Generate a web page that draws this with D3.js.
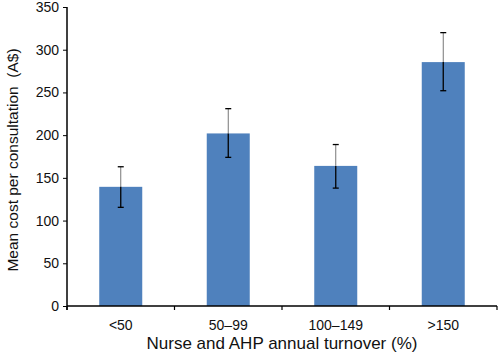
<!DOCTYPE html>
<html>
<head>
<meta charset="utf-8">
<style>
  body { margin: 0; background: #fff; }
  svg { display: block; font-family: "Liberation Sans", Arial, sans-serif; }
</style>
</head>
<body>
<svg></svg>
<script src="https://d3js.org/d3.v7.min.js"></script>
<script>
const categories = ['<50', '50\u201399', '100\u2013149', '>150'];
const means = [139.5, 202, 164, 285.5];
const errLow = [115.5, 174, 138, 252];
const errHigh = [163, 231, 189, 320];
const yTicks = [0, 50, 100, 150, 200, 250, 300, 350];

const width = 500, height = 360;
const margin = { top: 7, right: 3, bottom: 54, left: 67 };
const innerWidth = width - margin.left - margin.right;
const innerHeight = height - margin.top - margin.bottom;

const svg = d3.select('svg').attr('width', width).attr('height', height);
const g = svg.append('g').attr('transform', `translate(${margin.left},${margin.top})`);

const data = categories.map((c, i) => ({ cat: c, mean: means[i], lo: errLow[i], hi: errHigh[i] }));

const x = d3.scaleBand().domain(categories).range([0, innerWidth]).paddingInner(0.6).paddingOuter(0.3);
const xEdge = d3.scaleBand().domain(categories).range([0, innerWidth]);
const y = d3.scaleLinear().domain([0, 350]).range([innerHeight, 0]);

// bars
g.selectAll('rect.bar').data(data).enter().append('rect')
  .attr('class', 'bar')
  .attr('x', d => x(d.cat))
  .attr('y', d => y(d.mean))
  .attr('width', x.bandwidth())
  .attr('height', d => innerHeight - y(d.mean))
  .attr('fill', '#4f81bd');

// error bars (part above the bar looks lighter in the original)
const cx = d => x(d.cat) + x.bandwidth() / 2;
const err = g.selectAll('g.err').data(data).enter().append('g').attr('class', 'err');
err.append('line')
  .attr('x1', cx).attr('x2', cx)
  .attr('y1', d => y(d.hi)).attr('y2', d => y(d.mean))
  .attr('stroke', '#777').attr('stroke-width', 1);
err.append('line')
  .attr('x1', cx).attr('x2', cx)
  .attr('y1', d => y(d.mean)).attr('y2', d => y(d.lo))
  .attr('stroke', '#000').attr('stroke-width', 1.3);
err.append('line')
  .attr('x1', d => cx(d) - 3).attr('x2', d => cx(d) + 3)
  .attr('y1', d => y(d.hi)).attr('y2', d => y(d.hi))
  .attr('stroke', '#000').attr('stroke-width', 1.3);
err.append('line')
  .attr('x1', d => cx(d) - 3).attr('x2', d => cx(d) + 3)
  .attr('y1', d => y(d.lo)).attr('y2', d => y(d.lo))
  .attr('stroke', '#000').attr('stroke-width', 1.3);

// y axis
const yAxis = g.append('g')
  .call(d3.axisLeft(y).tickValues(yTicks).tickSize(4).tickPadding(4));
yAxis.select('.domain').attr('d', `M0,0V${innerHeight + 4}`).attr('stroke-width', 1.5);
yAxis.selectAll('text').attr('font-size', 14).attr('fill', '#111');

// x axis: ticks at band edges
const edges = categories.map(c => xEdge(c)).concat([innerWidth]);
const xAxis = g.append('g').attr('transform', `translate(0,${innerHeight})`);
xAxis.append('line').attr('x1', 0).attr('x2', innerWidth).attr('stroke', '#000').attr('stroke-width', 1.5);
xAxis.selectAll('line.tick').data(edges).enter().append('line')
  .attr('class', 'tick')
  .attr('x1', d => d).attr('x2', d => d).attr('y1', 0).attr('y2', 4)
  .attr('stroke', '#000').attr('stroke-width', 1.2);
xAxis.selectAll('text').data(categories).enter().append('text')
  .attr('x', d => x(d) + x.bandwidth() / 2)
  .attr('y', 24)
  .attr('text-anchor', 'middle')
  .attr('font-size', 14)
  .attr('fill', '#111')
  .text(d => d);

// axis titles
svg.append('text')
  .attr('x', 282)
  .attr('y', 349)
  .attr('text-anchor', 'middle')
  .attr('font-size', 17)
  .attr('fill', '#111')
  .text('Nurse and AHP annual turnover (%)');

svg.append('text')
  .attr('transform', 'translate(18,160) rotate(-90)')
  .attr('text-anchor', 'middle')
  .attr('font-size', 15.5)
  .attr('fill', '#111')
  .style('white-space', 'pre')
  .text('Mean cost per consultation  (A$)');
</script>
</body>
</html>
